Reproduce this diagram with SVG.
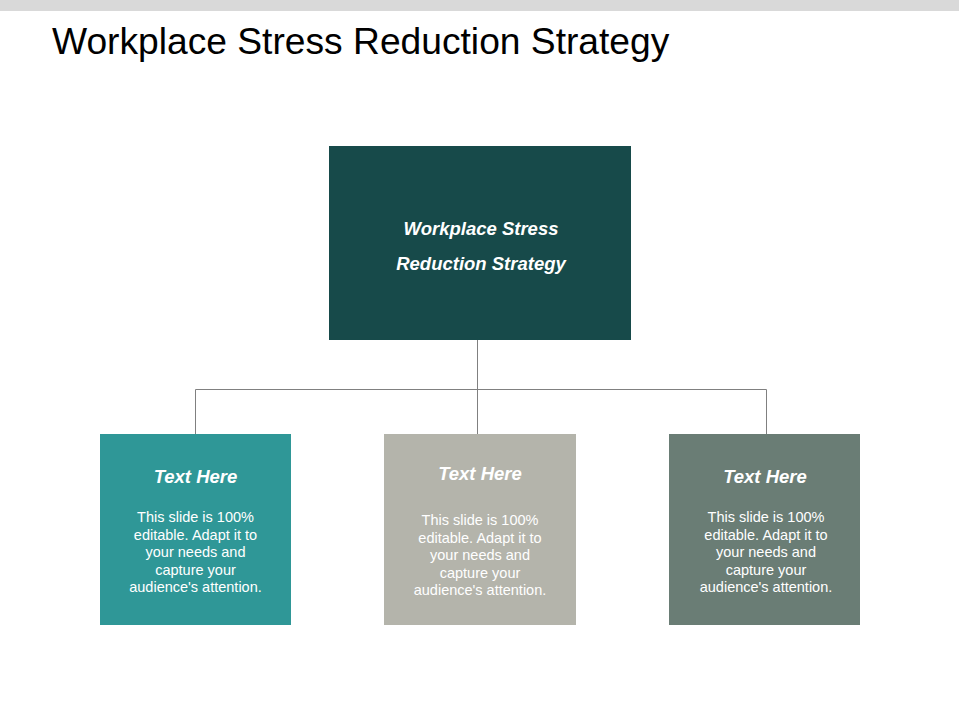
<svg xmlns="http://www.w3.org/2000/svg" width="960" height="720" viewBox="0 0 960 720">
<style>
.h{font-family:"Liberation Sans",Arial,sans-serif;font-weight:bold;font-style:italic;fill:#ffffff;text-anchor:middle;font-size:18.5px}
.b{font-family:"Liberation Sans",Arial,sans-serif;font-size:14.5px;fill:#ffffff;text-anchor:middle}
.c{stroke:#808080;stroke-width:1;fill:none}
</style>
<rect x="0" y="0" width="960" height="720" fill="#ffffff"/>
<rect x="0" y="0" width="959" height="11" fill="#d9d9d9"/>
<text x="52" y="54" font-family="Liberation Sans,Arial,sans-serif" font-size="37.2" fill="#000000">Workplace Stress Reduction Strategy</text>
<g id="connectors">
<path class="c" d="M477.5 340 V434 M195.5 434 V389.5 H766.5 V434"/>
</g>
<g id="root">
<rect x="329" y="146" width="302" height="194" fill="#174a4a"/>
<text class="h" x="481" y="235">Workplace Stress</text>
<text class="h" x="481" y="270">Reduction Strategy</text>
</g>
<g id="left">
<rect x="100" y="434" width="191" height="191" fill="#2f9797"/>
<text class="h" x="195.5" y="483">Text Here</text>
<text class="b" x="195.5" y="522">This slide is 100%</text>
<text class="b" x="195.5" y="539.5">editable. Adapt  it to</text>
<text class="b" x="195.5" y="557">your needs and</text>
<text class="b" x="195.5" y="574.5">capture your</text>
<text class="b" x="195.5" y="592">audience's attention.</text>
</g>
<g id="middle">
<rect x="384" y="434" width="192" height="191" fill="#b4b4ab"/>
<text class="h" x="480" y="480">Text Here</text>
<text class="b" x="480" y="525">This slide is 100%</text>
<text class="b" x="480" y="542.5">editable. Adapt  it to</text>
<text class="b" x="480" y="560">your needs and</text>
<text class="b" x="480" y="577.5">capture your</text>
<text class="b" x="480" y="595">audience's attention.</text>
</g>
<g id="right">
<rect x="669" y="434" width="191" height="191" fill="#6a7d75"/>
<text class="h" x="765" y="483">Text Here</text>
<text class="b" x="766" y="522">This slide is 100%</text>
<text class="b" x="766" y="539.5">editable. Adapt  it to</text>
<text class="b" x="766" y="557">your needs and</text>
<text class="b" x="766" y="574.5">capture your</text>
<text class="b" x="766" y="592">audience's attention.</text>
</g>
</svg>
